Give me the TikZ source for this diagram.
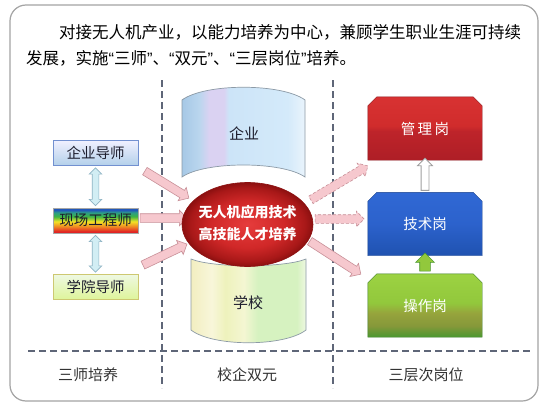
\documentclass[tikz,border=0pt]{standalone}
\usepackage{fontspec}
\setmainfont{Noto Sans CJK SC}
\newfontfamily\latinq{Liberation Sans}
\usetikzlibrary{shapes.arrows,calc}
\definecolor{framegray}{HTML}{A4A4A4}
\definecolor{dashgray}{HTML}{5E6678}
\definecolor{pinkfill}{HTML}{F6C8CE}
\definecolor{pinkedge}{HTML}{C89098}
\definecolor{cyanfill}{HTML}{D2EEF4}
\definecolor{cyanedge}{HTML}{8FB4C4}
\definecolor{rbred}{HTML}{E02424}
\definecolor{rborange}{HTML}{F08A22}
\definecolor{rbyellow}{HTML}{F2E424}
\definecolor{rbgreen}{HTML}{3CB444}
\definecolor{rbteal}{HTML}{2C9C88}
\definecolor{rbblue}{HTML}{2258B8}
\definecolor{qa}{HTML}{A6C8E6}
\definecolor{qb}{HTML}{BAD6EE}
\definecolor{qc}{HTML}{DAD2F2}
\definecolor{qd}{HTML}{CCE4F8}
\definecolor{qe}{HTML}{D4EAFA}
\definecolor{qf}{HTML}{EAF4FC}
\definecolor{xa}{HTML}{F2EEC0}
\definecolor{xb}{HTML}{F8F6DA}
\definecolor{xc}{HTML}{EEF2BC}
\definecolor{xd}{HTML}{F4F6D2}
\definecolor{xe}{HTML}{D6F2C0}
\definecolor{xf}{HTML}{EEF8E2}
\definecolor{ra}{HTML}{AE1E26}
\definecolor{rb}{HTML}{BE242A}
\definecolor{rc}{HTML}{D02C2C}
\definecolor{rd}{HTML}{D83232}
\definecolor{ba}{HTML}{1F52B0}
\definecolor{bb}{HTML}{2C62CC}
\definecolor{bc}{HTML}{3068D4}
\definecolor{ga}{HTML}{4A9830}
\definecolor{gb}{HTML}{86983A}
\definecolor{gc}{HTML}{96A43C}
\definecolor{gd}{HTML}{92C83C}
\definecolor{ge}{HTML}{9CD242}
\definecolor{ea}{HTML}{E63C3C}
\definecolor{eb}{HTML}{D02828}
\definecolor{ec}{HTML}{A81818}
\definecolor{ed}{HTML}{8C1010}
\definecolor{cylgray}{HTML}{8C9AA6}
\definecolor{textdark}{HTML}{1C1C2C}
\pgfdeclareverticalshading{rainbow}{100bp}{color(0bp)=(rbred); color(28bp)=(rbred); color(38bp)=(rborange); color(48bp)=(rbyellow); color(58bp)=(rbgreen); color(66bp)=(rbteal); color(71bp)=(rbblue); color(100bp)=(rbblue)}
\pgfdeclarehorizontalshading{qiyeshade}{100bp}{color(0bp)=(qa); color(25bp)=(qa); color(32bp)=(qb); color(36bp)=(qc); color(42bp)=(qc); color(44bp)=(qd); color(68bp)=(qe); color(75bp)=(qf); color(100bp)=(qf)}
\pgfdeclarehorizontalshading{xxshade}{100bp}{color(0bp)=(xa); color(25bp)=(xa); color(34bp)=(xb); color(40bp)=(xc); color(48bp)=(xd); color(54bp)=(xe); color(71bp)=(xe); color(75bp)=(xf); color(100bp)=(xf)}
\pgfdeclareverticalshading{redbox}{100bp}{color(0bp)=(ra); color(25bp)=(ra); color(48bp)=(rb); color(52bp)=(rc); color(75bp)=(rd); color(100bp)=(rd)}
\pgfdeclareverticalshading{bluebox}{100bp}{color(0bp)=(ba); color(25bp)=(ba); color(50bp)=(bb); color(75bp)=(bc); color(100bp)=(bc)}
\pgfdeclareverticalshading{greenbox}{100bp}{color(0bp)=(ga); color(25bp)=(ga); color(34bp)=(gb); color(44bp)=(gc); color(52bp)=(gd); color(75bp)=(ge); color(100bp)=(ge)}
\pgfdeclareradialshading{redball}{\pgfpoint{0bp}{0bp}}{color(0bp)=(ea); color(14bp)=(eb); color(22bp)=(ec); color(25bp)=(ed); color(50bp)=(ed)}
\pgfdeclarelayer{bg}
\pgfsetlayers{bg,main}
\newcommand\myarrow[4]{\path let \p1=(#2), \p2=(#3), \n1={atan2(\y2-\y1,\x2-\x1)}, \n2={veclen(\x2-\x1,\y2-\y1)} in node[#1, rotate=\n1, minimum height=\n2] (#4) at ($(#2)!0.5!(#3)$) {};}
\newcommand\chamferpath[2]{\path[#2] (#1.south west) -- ($(#1.north west)+(0,9)$) -- ($(#1.north west)+(9,0)$) -- ($(#1.north east)+(-9,0)$) -- ($(#1.north east)+(0,9)$) -- (#1.south east) -- cycle;}
\newcommand\myopenq{{\latinq “}}
\newcommand\mycloseq{{\latinq ”}}
\begin{document}
\begin{tikzpicture}[x=1pt,y=-1pt,
  fatarrow/.style={single arrow, draw=pinkedge, fill=pinkfill, line width=0.6pt, inner sep=4pt, single arrow head extend=3.5pt},
  fatarrowdash/.style={fatarrow, dash pattern=on 3pt off 2pt},
  dblarrow/.style={double arrow, draw=cyanedge, fill=cyanfill, line width=0.6pt, inner sep=3pt, double arrow head extend=3pt},
  hollowup/.style={single arrow, draw=gray!75, fill=white, line width=0.8pt, inner sep=3.5pt, single arrow head extend=3.5pt},
  greenup/.style={single arrow, draw=ga, fill=gd, line width=0.6pt, inner sep=5pt, single arrow head extend=4pt},
  dashline/.style={draw=dashgray, line width=1.5pt, dash pattern=on 7pt off 4pt},
  leftbox/.style={draw=#1, line width=0.7pt, minimum width=85pt, minimum height=25pt, inner sep=0pt, text=textdark, font=\fontsize{14.5}{16}\selectfont},
  rightbox/.style={minimum width=114pt, minimum height=63pt, inner sep=0pt, text=white, font=\fontsize{14.5}{16}\selectfont},
  cyllabel/.style={text=textdark, font=\fontsize{15}{17}\selectfont},
  bottomlabel/.style={text=black!80, font=\fontsize{15}{17}\selectfont},
  titletext/.style={anchor=west, inner sep=0pt, text=black, font=\fontsize{16.5}{20}\selectfont}
]
\useasboundingbox (0,0) rectangle (546,404);
\begin{pgfonlayer}{bg}
\fill[white] (0,0) rectangle (546,404);
\end{pgfonlayer}
\draw[framegray, line width=1.2pt, rounded corners=16pt] (10,5) rectangle (538,401);

% title
\node[titletext] (t1) at (59,32) {对接无人机产业，以能力培养为中心，兼顾学生职业生涯可持续};
\node[titletext] (t2) at (26,58) {发展，实施\myopenq 三师\mycloseq 、\myopenq 双元\mycloseq 、\myopenq 三层岗位\mycloseq 培养。};

% dashed separators
\coordinate (v1t) at (162,80); \coordinate (v1b) at (162,388);
\coordinate (v2t) at (333,80); \coordinate (v2b) at (333,388);
\coordinate (hl) at (28,351); \coordinate (hr) at (530,351);
\draw[dashline] (v1t) -- (v1b);
\draw[dashline] (v2t) -- (v2b);
\draw[dashline] (hl) -- (hr);

% bottom labels
\node[bottomlabel] (l1) at (88,375) {三师培养};
\node[bottomlabel] (l2) at (247,375) {校企双元};
\node[bottomlabel] (l3) at (426,375) {三层次岗位};

% left column
\node[leftbox=cyanedge!80!blue, top color=blue!6, bottom color=qa!85] (qiye) at (95.5,153) {企业导师};
\node[leftbox=gray!70, shading=rainbow] (xc) at (95.5,220.5) {现场工程师};
\node[leftbox=olive!45, top color=xf, bottom color=xe!80!yellow] (xy) at (95.5,287) {学院导师};
\coordinate (d1a) at ($(qiye.south)+(0,2)$);
\coordinate (d1b) at ($(xc.north)+(0,-2)$);
\coordinate (d2a) at ($(xc.south)+(0,2)$);
\coordinate (d2b) at ($(xy.north)+(0,-2)$);
\myarrow{dblarrow}{d1a}{d1b}{da1}
\myarrow{dblarrow}{d2a}{d2b}{da2}

% cylinders
\path[shading=qiyeshade, draw=cylgray, line width=0.7pt] (182,100) .. controls (205,83) and (282,83) .. (305,100) -- (305,177) .. controls (282,161) and (205,161) .. (182,177) -- cycle;
\node[cyllabel] (qylabel) at (244,134) {企业};
\path[shading=xxshade, draw=cylgray, line width=0.7pt] (191,259) .. controls (213,268) and (284,268) .. (306,259) -- (306,330) .. controls (284,347) and (213,347) .. (191,330) -- cycle;
\node[cyllabel] (xxlabel) at (248,303) {学校};

% arrows into the core
\coordinate (a1s) at (143,170); \coordinate (a1e) at (187,197);
\coordinate (a2s) at (138,218); \coordinate (a2e) at (185,218);
\coordinate (a3s) at (141,266); \coordinate (a3e) at (185,245);
\myarrow{fatarrow}{a1s}{a1e}{fa1}
\myarrow{fatarrow}{a2s}{a2e}{fa2}
\myarrow{fatarrow}{a3s}{a3e}{fa3}

% core ellipse
\path[shading=redball, draw=ed, line width=0.6pt] (247.5,224.5) ellipse [x radius=65.5pt, y radius=42pt];
\node[text=white, align=center, font=\bfseries\fontsize{14}{22}\selectfont] (core) at (247.5,223.5) {无人机应用技术\\高技能人才培养};

% right column
\node[rightbox] (guanli) at (425,128.5) {管\,理\,岗};
\node[rightbox] (jishu) at (425,224) {技术岗};
\node[rightbox] (caozuo) at (425,305.5) {操作岗};
\begin{pgfonlayer}{bg}
\chamferpath{guanli}{shading=redbox, draw=ra!80!black, line width=0.4pt}
\chamferpath{jishu}{shading=bluebox, draw=ba!80!black, line width=0.4pt}
\chamferpath{caozuo}{shading=greenbox, draw=ga!80!black, line width=0.4pt}
\end{pgfonlayer}
\myarrow{hollowup}{jishu.north}{guanli.south}{ua1}
\myarrow{greenup}{caozuo.north}{jishu.south}{ua2}

% arrows out of the core
\coordinate (b1s) at (309,201); \coordinate (b1e) at (366,167);
\coordinate (b2s) at (313,219); \coordinate (b2e) at (362,219);
\coordinate (b3s) at (308,240); \coordinate (b3e) at (359,273);
\myarrow{fatarrowdash}{b1s}{b1e}{fb1}
\myarrow{fatarrowdash}{b2s}{b2e}{fb2}
\myarrow{fatarrow}{b3s}{b3e}{fb3}
\end{tikzpicture}
\end{document}
